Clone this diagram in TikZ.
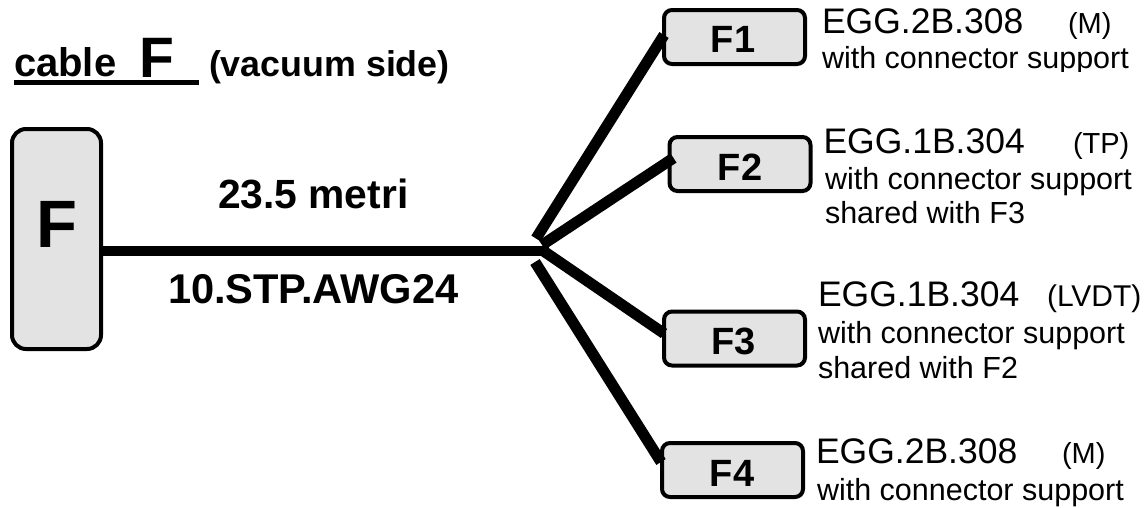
\documentclass[tikz,border=0pt]{standalone}
\usepackage{fontspec}
\setmainfont{Liberation Sans}
\usetikzlibrary{calc}
\tikzset{
  x=1pt,y=-1pt,
  conbox/.style={draw=black,fill=black!11,line width=4pt,rounded corners=8pt,inner sep=0pt,outer sep=0pt,minimum width=141pt,minimum height=54pt},
  bigbox/.style={draw=black,fill=black!11,line width=4pt,rounded corners=14pt,inner sep=0pt,outer sep=0pt,minimum width=89pt,minimum height=220pt},
  cablemain/.style={line width=10.5pt},
  branch/.style={line width=11pt},
  lab/.style={anchor=base west,inner sep=0pt,outer sep=0pt},
  boxname/.style={anchor=base,inner sep=0pt,outer sep=0pt,font=\fontsize{38}{38}\selectfont\bfseries},
  boldlab/.style={lab,font=\fontsize{#1}{#1}\selectfont\bfseries},
  conn/.style={lab,font=\fontsize{35.5}{35.5}\selectfont},
  kind/.style={lab,font=\fontsize{29}{29}\selectfont},
  desc/.style={lab,font=\fontsize{30.5}{30.5}\selectfont},
}
\begin{document}
\begin{tikzpicture}
\useasboundingbox (0,0) rectangle (1148,507);
% boxes
\node[bigbox] (F) at (56.5,239) {};
\node[conbox] (F1) at (734.5,37) {};
\node[conbox] (F2) at (740,164) {};
\node[conbox] (F3) at (734.5,338.5) {};
\node[conbox] (F4) at (732.5,470) {};
% names in boxes
\node[anchor=base,inner sep=0,font=\fontsize{67}{67}\selectfont\bfseries] (Fname) at (57,247) {F};
\node[boxname] (F1name) at (733,52) {F1};
\node[boxname] (F2name) at (740,180) {F2};
\node[boxname] (F3name) at (733.5,354) {F3};
\node[boxname] (F4name) at (732,486) {F4};
% title
\node[boldlab=40] (tcable) at (14,76) {cable};
\node[boldlab=57] (tF) at (139,77) {F};
\node[boldlab=35.8] (tvac) at (209,76) {(vacuum side)};
\coordinate (ulstart) at (14,82);
\coordinate (ulend) at (199,82);
\draw[line width=5pt] (ulstart) -- (ulend);
% cable labels
\node[boldlab=40.8] (len) at (218,208) {23.5 metri};
\node[boldlab=41.6] (type) at (168,303) {10.STP.AWG24};
% connectors
\coordinate (hub) at (549,251);
\coordinate (b1) at (536,238.5);
\coordinate (b2) at (542,245);
\coordinate (b3) at (542,250);
\coordinate (b4) at (535,262);
\draw[cablemain] (F.east |- hub) -- (hub);
\draw[branch] (b1) -- ($(F1.west)+(0,-2)$);
\draw[branch] (b2) -- ($(F2.west)+(4,-6)$);
\draw[branch] (b3) -- ($(F3.west)+(0,-5)$);
\draw[branch] (b4) -- ($(F4.west)+(-1,-8)$);
% right text
\node[conn] (c1) at (822,33) {EGG.2B.308};
\node[kind] (k1) at (1068,33) {(M)};
\begin{scope}
\clip (815,40) rectangle (1148,71);
\node[desc] (d1) at (822,68) {with connector support};
\end{scope}
\node[conn] (c2) at (823.5,153) {EGG.1B.304};
\node[kind] (k2) at (1073,153) {(TP)};
\node[desc] (d2) at (825,189) {with connector support};
\node[desc] (s2) at (825,223) {shared with F3};
\node[conn] (c3) at (818,306) {EGG.1B.304};
\node[kind,font=\fontsize{30}{30}\selectfont] (k3) at (1047,306) {(LVDT)};
\node[desc] (d3) at (818,343) {with connector support};
\node[desc] (s3) at (818,378) {shared with F2};
\node[conn] (c4) at (816,463) {EGG.2B.308};
\node[kind] (k4) at (1062,463) {(M)};
\node[desc] (d4) at (817,500) {with connector support};
\end{tikzpicture}
\end{document}
